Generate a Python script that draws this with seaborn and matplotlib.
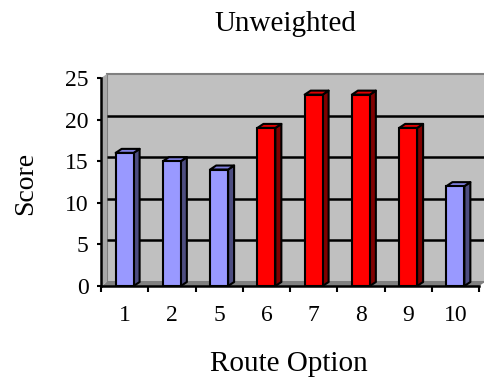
import matplotlib
matplotlib.use("Agg")
import matplotlib.pyplot as plt
from matplotlib.patches import Polygon
from matplotlib.ticker import FixedLocator, NullFormatter
import seaborn as sns
import pandas as pd

routes = ["1", "2", "5", "6", "7", "8", "9", "10"]
scores = [16, 15, 14, 19, 23, 23, 19, 12]
groups = ["blue", "blue", "blue", "red", "red", "red", "red", "blue"]

face_colors = {"blue": "#9999FF", "red": "#FF0000"}
side_colors = {"blue": "#4D4D80", "red": "#800000"}
top_colors = {"blue": "#8080E0", "red": "#E00000"}

sns.set_theme(style="white")
plt.rcParams["font.family"] = ["Liberation Serif", "DejaVu Serif"]

W, H = 484, 379
fig = plt.figure(figsize=(W / 100, H / 100), dpi=100)
left, right, bottom, top = 101, 479, 286, 78
ax = fig.add_axes([left / W, 1 - bottom / H, (right - left) / W, (bottom - top) / H])

df = pd.DataFrame({"route": routes, "score": scores, "group": groups})
n = len(routes)
ymax = 25
# depth offset of the 3-D effect, in data units (6 px right, 4 px up)
px_x = n / (right - left)
px_y = ymax / (bottom - top)
dx, dy = 6 * px_x, 4 * px_y

x0, x1 = -0.5, n - 0.5
# floor, side wall and back wall
ax.add_patch(Polygon([(x0, 0), (x1, 0), (x1 + dx, dy), (x0 + dx, dy)],
                     closed=True, facecolor="#808080", edgecolor="none", zorder=0.5, clip_on=False))
ax.add_patch(Polygon([(x0, 0), (x0 + dx, dy), (x0 + dx, ymax + dy), (x0, ymax)],
                     closed=True, facecolor="#A8A8A8", edgecolor="none", zorder=0.5, clip_on=False))
ax.add_patch(Polygon([(x0 + dx, dy), (x1 + dx + 1, dy), (x1 + dx + 1, ymax + dy), (x0 + dx, ymax + dy)],
                     closed=True, facecolor="#C0C0C0", edgecolor="#808080", lw=1.5, zorder=0.4, clip_on=False))
for gy in range(5, ymax, 5):
    ax.plot([x0 + dx, x1 + dx + 1], [gy + dy, gy + dy], color="black", lw=1.8,
            zorder=0.6, clip_on=False, solid_capstyle="butt")

sns.barplot(data=df, x="route", y="score", hue="route",
            palette=[face_colors[g] for g in groups], legend=False,
            width=0.38, edgecolor="black", linewidth=1.5, saturation=1, ax=ax, zorder=3)

for patch, g in zip(ax.patches[3:], groups):
    bx, by = patch.get_x(), patch.get_y()
    bw, bh = patch.get_width(), patch.get_height()
    xr, yt = bx + bw, by + bh
    ax.add_patch(Polygon([(xr, by), (xr + dx, by + dy), (xr + dx, yt + dy), (xr, yt)],
                         closed=True, facecolor=side_colors[g], edgecolor="black",
                         lw=1.5, zorder=2.9, joinstyle="round"))
    ax.add_patch(Polygon([(bx, yt), (xr, yt), (xr + dx, yt + dy), (bx + dx, yt + dy)],
                         closed=True, facecolor=top_colors[g], edgecolor="black",
                         lw=1.5, zorder=2.9, joinstyle="round"))

ax.set_xlim(x0, x1)
ax.set_ylim(0, ymax)
ax.set_yticks(range(0, ymax + 1, 5))
ax.set_facecolor("none")
for side in ("top", "right"):
    ax.spines[side].set_visible(False)
for side in ("left", "bottom"):
    ax.spines[side].set_color("black")
    ax.spines[side].set_linewidth(1.8)
    ax.spines[side].set_zorder(4)

ax.xaxis.set_minor_locator(FixedLocator([i - 0.5 for i in range(n + 1)]))
ax.xaxis.set_minor_formatter(NullFormatter())
ax.tick_params(axis="x", which="major", length=0, pad=14, labelsize=17, colors="black")
ax.tick_params(axis="x", which="minor", bottom=True, length=4, width=1.5, color="black", direction="out")
ax.tick_params(axis="y", which="major", left=True, length=3, width=1.5, direction="out",
               pad=6, labelsize=17, colors="black")
ax.set_xlabel("")
ax.set_ylabel("")

fig.text(285 / W, 1 - 31 / H, "Unweighted", ha="center", va="baseline", fontsize=21, color="black")
fig.text(289 / W, 1 - 371 / H, "Route Option", ha="center", va="baseline", fontsize=21, color="black")
fig.text(32 / W, 1 - 183 / H, "Score", ha="center", va="baseline", rotation=90,
         rotation_mode="anchor", fontsize=20, color="black")

fig.savefig("out.png", dpi=100, facecolor="white")
